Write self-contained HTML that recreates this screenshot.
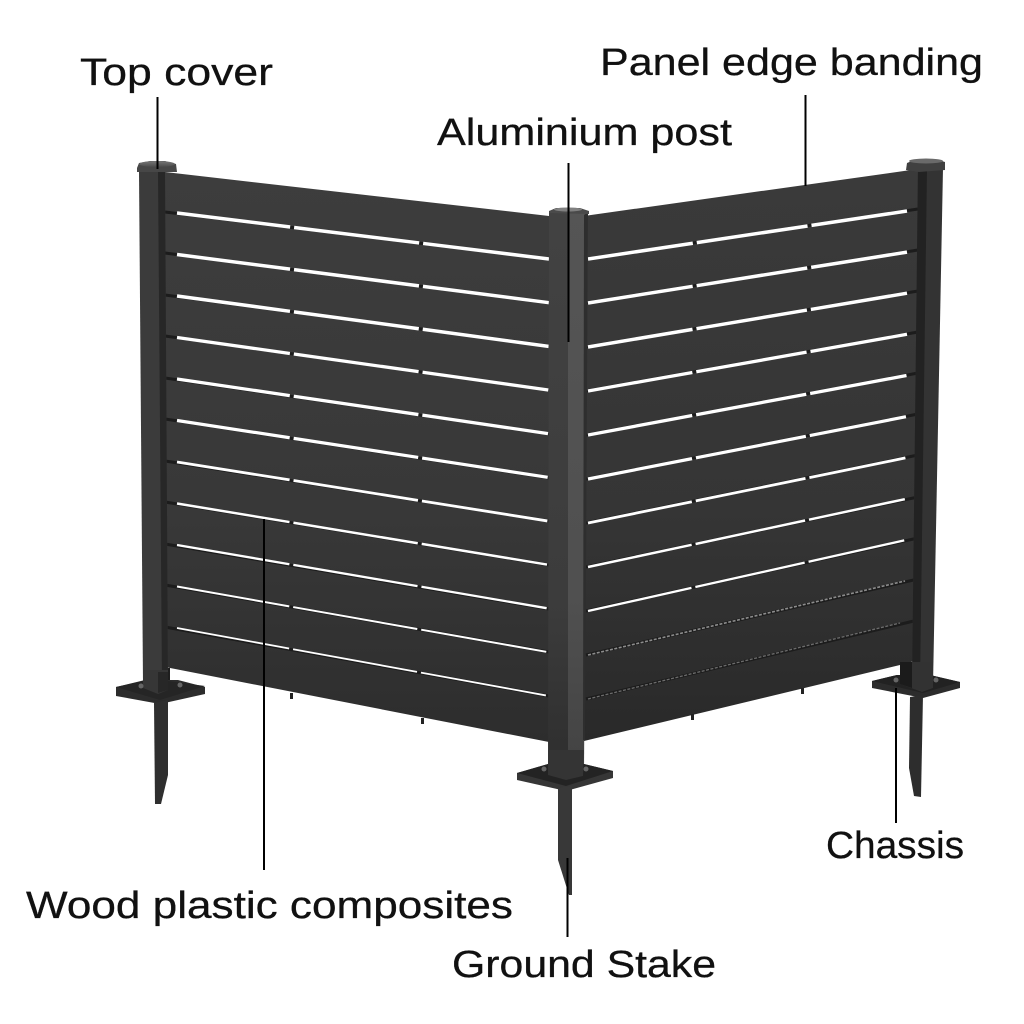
<!DOCTYPE html>
<html>
<head>
<meta charset="utf-8">
<style>
html,body{margin:0;padding:0;background:#fff}
svg{display:block}
text{font-family:"Liberation Sans",sans-serif;font-size:38px;fill:#111;stroke:#111;stroke-width:.3}
.w{stroke:#fff;stroke-linecap:butt;fill:none}
.u{stroke:#1c1c1c;fill:none}
.l{stroke:#000;stroke-width:2;fill:none}
</style>
</head>
<body>
<svg width="1024" height="1024" viewBox="0 0 1024 1024" xmlns="http://www.w3.org/2000/svg">
<defs>
<linearGradient id="pl" x1="0" y1="0" x2="0" y2="1"><stop offset="0" stop-color="#3d3d3d"/><stop offset=".6" stop-color="#383838"/><stop offset="1" stop-color="#2d2d2d"/></linearGradient>
<linearGradient id="pr" x1="0" y1="0" x2="0" y2="1"><stop offset="0" stop-color="#3a3a3a"/><stop offset=".6" stop-color="#353535"/><stop offset="1" stop-color="#292929"/></linearGradient>
<linearGradient id="pc" x1="0" y1="0" x2="0" y2="1"><stop offset="0" stop-color="#424242"/><stop offset=".7" stop-color="#3c3c3c"/><stop offset="1" stop-color="#2e2e2e"/></linearGradient>
<linearGradient id="cap" x1="0" y1="0" x2="0" y2="1"><stop offset="0" stop-color="#777"/><stop offset="1" stop-color="#4a4a4a"/></linearGradient>
</defs>

<!-- left panel -->
<polygon points="165,172 549,216 549,742 165,667" fill="url(#pl)"/>
<g class="u" stroke-width="3">
<path d="M165,212 L549,259M165,253 L549,303M165,295 L549,346M165,336 L549,390M165,378 L549,434M165,419 L549,478M165,461 L549,521M165,502 L549,565M165,544 L549,609M165,585 L549,652M165,627 L549,696"/>
</g>
<g class="w" stroke-dasharray="114 4 126 4 127">
<path stroke-width="3.5" d="M177,213 L549,259"/>
<path stroke-width="3.5" d="M177,254.5 L549,302.7"/>
<path stroke-width="3.5" d="M177,296 L549,346.4"/>
<path stroke-width="3.3" d="M177,337.5 L549,390.1"/>
<path stroke-width="3.3" d="M177,379 L549,433.8"/>
<path stroke-width="3.2" d="M177,420.5 L549,477.5"/>
<path stroke-width="2.8" d="M177,462 L549,521.2"/>
<path stroke-width="2.5" d="M177,503.5 L549,564.9"/>
<path stroke-width="2.3" d="M177,545 L549,608.6"/>
<path stroke-width="2" d="M177,586.5 L549,652.3"/>
<path stroke-width="1.8" d="M177,628 L549,696"/>
</g>

<!-- right panel -->
<polygon points="584,216 918,169 918,660 900,665 584,741" fill="url(#pr)"/>
<g class="u" stroke-width="3">
<path d="M586,259 L918,209M586,303 L918,250M586,347 L918,291M586,391 L918,332M586,435 L918,373M586,479 L918,414M586,523 L918,455M586,567 L918,497M586,611 L918,538M586,655 L918,579M586,699 L918,620"/>
</g>
<g class="w" stroke-dasharray="106 4 112 4 98">
<path stroke-width="3.5" d="M588,259 L907,211"/>
<path stroke-width="3.5" d="M588,303 L907,252.1"/>
<path stroke-width="3.5" d="M588,347 L907,293.2"/>
<path stroke-width="3.3" d="M588,391 L907,334.3"/>
<path stroke-width="3.3" d="M588,435 L907,375.4"/>
<path stroke-width="3.2" d="M588,479 L907,416.5"/>
<path stroke-width="2.8" d="M588,523 L907,457.6"/>
<path stroke-width="2.5" d="M588,567 L907,498.7"/>
<path stroke-width="2.3" d="M588,611 L907,539.8"/>
</g>
<path d="M588,655 L905,581" stroke="#8c8c8c" stroke-width="1.6" stroke-dasharray="3 1.5" fill="none"/>
<path d="M588,699 L900,623" stroke="#6c6c6c" stroke-width="1.3" stroke-dasharray="3 1.5" fill="none"/>

<!-- small feet under panels -->
<g fill="#222">
<rect x="290" y="693" width="3" height="6"/><rect x="421" y="718" width="3" height="6"/>
<rect x="691" y="714" width="3" height="6"/><rect x="801" y="688" width="3" height="6"/>
</g>

<!-- left post -->
<polygon points="164,668 170,668 170,690 164,690" fill="#1e1e1e"/>
<polygon points="139,172 165,172 168,684 143,684" fill="#3b3b3b"/>
<polygon points="158,172 165,172 168,684 162,684" fill="#272727"/>
<!-- left base -->
<polygon points="116,687 145,680 178,680 205,687 205,694 160,704 116,696" fill="#2c2c2c"/>
<polygon points="116,687 143,681 168,681 205,686 160,700" fill="#252525"/>
<polygon points="143,670 168,670 168,690 158,694 143,688" fill="#363636"/>
<polygon points="158,672 168,672 168,690 158,693" fill="#272727"/>
<circle cx="141" cy="686" r="2.5" fill="#666"/><circle cx="180" cy="685" r="2.5" fill="#666"/>
<!-- left stake -->
<polygon points="154,703 168,700 168,775 161,804 155,804" fill="#2f2f2f"/>
<!-- left cap -->
<polygon points="137,168 139,163 150,161 165,161 176,164 177,172 137,172" fill="#474747"/>
<ellipse cx="157" cy="164" rx="18" ry="3" fill="url(#cap)"/>

<!-- centre post -->
<polygon points="549,212 568,212 568,770 548,770" fill="url(#pc)"/>
<polygon points="568,212 588,212 584,770 568,770" fill="url(#pc)" opacity=".9"/>
<polygon points="584,215 588,212 585,740 583,740" fill="#2e2e2e"/>
<!-- centre base -->
<polygon points="517,773 548,764 584,764 613,771 613,778 566,791 517,780" fill="#363636"/>
<polygon points="517,773 548,764 584,764 613,771 566,786" fill="#232323"/>
<polygon points="548,750 584,750 583,776 566,780 548,775" fill="#343434"/>
<circle cx="544" cy="769" r="2.5" fill="#666"/><circle cx="586" cy="769" r="2.5" fill="#666"/>
<!-- centre stake -->
<polygon points="558,788 572,786 572,895 569,895 558,860" fill="#383838"/>
<!-- centre cap -->
<polygon points="549,213 549,211 556,208 580,208 589,211 589,214" fill="#4a4a4a"/>
<ellipse cx="568" cy="209.5" rx="14" ry="2" fill="#808080"/>

<!-- right post -->
<polygon points="918,168 943,168 933,685 912,685" fill="#333"/>
<polygon points="918,168 927,168 920,685 912,685" fill="#222"/>
<!-- right base -->
<polygon points="872,681 897,675 930,675 960,682 960,688 923,698 872,688" fill="#2c2c2c"/>
<polygon points="872,681 897,675 930,675 960,682 923,693" fill="#222"/>
<polygon points="900,662 933,662 933,688 922,692 900,684" fill="#323232"/>
<polygon points="900,662 912,662 912,688 900,684" fill="#1b1b1b"/>
<circle cx="896" cy="680" r="2.5" fill="#666"/><circle cx="936" cy="680" r="2.5" fill="#666"/>
<!-- right stake -->
<polygon points="910,697 923,695 921,797 914,796 909,768" fill="#2d2d2d"/>
<!-- right cap -->
<polygon points="906,170 907,163 917,159 935,159 945,162 945,170 919,172" fill="#404040"/>
<ellipse cx="926" cy="161" rx="17" ry="2.5" fill="#6a6a6a"/>

<!-- leaders -->
<line class="l" x1="157.5" y1="97" x2="157.5" y2="169"/>
<line class="l" x1="568.5" y1="163" x2="568.5" y2="342"/>
<line class="l" x1="805.5" y1="95" x2="805.5" y2="186"/>
<line class="l" x1="264" y1="519" x2="264" y2="870"/>
<line class="l" x1="567.5" y1="858" x2="567.5" y2="937"/>
<line class="l" x1="896" y1="688" x2="896" y2="823"/>

<!-- labels -->
<text x="80" y="85" textLength="193" lengthAdjust="spacingAndGlyphs">Top cover</text>
<text x="600" y="75" textLength="383" lengthAdjust="spacingAndGlyphs">Panel edge banding</text>
<text x="437" y="145" textLength="295" lengthAdjust="spacingAndGlyphs">Aluminium post</text>
<text x="26" y="918" textLength="487" lengthAdjust="spacingAndGlyphs">Wood plastic composites</text>
<text x="452" y="977" textLength="264" lengthAdjust="spacingAndGlyphs">Ground Stake</text>
<text x="826" y="858" textLength="138" lengthAdjust="spacingAndGlyphs">Chassis</text>
</svg>
</body>
</html>
